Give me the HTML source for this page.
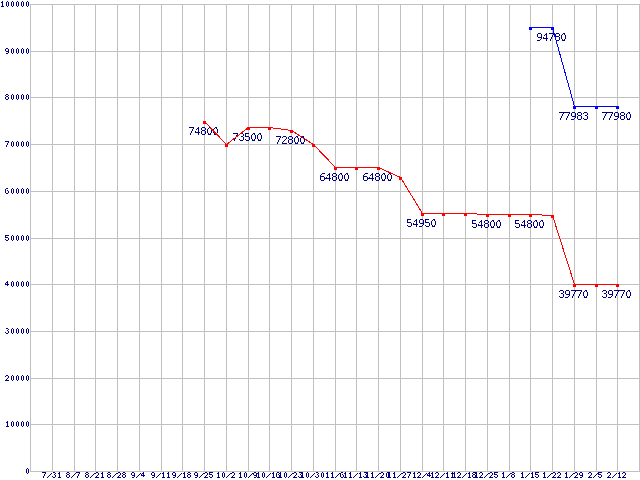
<!DOCTYPE html><html><head><meta charset="utf-8"><title>chart</title><style>html,body{margin:0;padding:0;background:#fff;width:640px;height:480px;overflow:hidden}svg{display:block}text{text-anchor:middle}.axl{fill:#000080}.axl .z{font-family:"Liberation Serif",serif;font-weight:bold;font-size:8.0px}.axl .o{font-family:"Liberation Mono",monospace;font-weight:bold;font-size:8.5px}.axl .t{font-family:"Liberation Sans",sans-serif;font-weight:normal;font-size:9.5px}.axl .h{font-family:"Liberation Sans",sans-serif;font-weight:normal;font-size:8.5px}.axl .f{font-family:"Liberation Sans",sans-serif;font-weight:bold;font-size:8.0px}.axl .v{font-family:"Liberation Sans",sans-serif;font-weight:bold;font-size:8.5px}.axl .x{font-family:"Liberation Sans",sans-serif;font-weight:normal;font-size:8.5px}.axl .s{font-family:"Liberation Sans",sans-serif;font-weight:normal;font-size:9.0px}.axl .e{font-family:"Liberation Sans",sans-serif;font-weight:normal;font-size:8.5px}.axl .n{font-family:"Liberation Sans",sans-serif;font-weight:normal;font-size:9.5px}.axl .sl{font-family:"Liberation Mono",monospace;font-weight:bold;font-size:9.0px}.val{fill:#000080}.val .z{font-family:"Liberation Sans",sans-serif;font-weight:bold;font-size:10.0px}.val .t{font-family:"Liberation Sans",sans-serif;font-weight:normal;font-size:11.5px}.val .h{font-family:"Liberation Sans",sans-serif;font-weight:normal;font-size:11.5px}.val .f{font-family:"Liberation Sans",sans-serif;font-weight:normal;font-size:11.0px}.val .v{font-family:"Liberation Sans",sans-serif;font-weight:normal;font-size:11.0px}.val .x{font-family:"DejaVu Sans",sans-serif;font-weight:normal;font-size:11.0px}.val .s{font-family:"Liberation Sans",sans-serif;font-weight:normal;font-size:12.5px}.val .e{font-family:"Liberation Sans",sans-serif;font-weight:normal;font-size:11.5px}.val .n{font-family:"DejaVu Sans",sans-serif;font-weight:normal;font-size:11.0px}</style></head><body>
<svg width="640" height="480" viewBox="0 0 640 480">
<rect width="640" height="480" fill="#fff"/>
<defs><filter id="bm" x="0" y="0" width="640" height="480" filterUnits="userSpaceOnUse" color-interpolation-filters="sRGB"><feComponentTransfer><feFuncA type="discrete" tableValues="0 0 1 1 1"/></feComponentTransfer></filter><filter id="bm2" x="0" y="0" width="640" height="480" filterUnits="userSpaceOnUse" color-interpolation-filters="sRGB"><feComponentTransfer><feFuncA type="discrete" tableValues="0 0 0 1 1"/></feComponentTransfer></filter></defs>
<g fill="#c0c0c0"><rect x="30" y="4" width="610" height="1"/><rect x="30" y="51" width="610" height="1"/><rect x="30" y="97" width="610" height="1"/><rect x="30" y="144" width="610" height="1"/><rect x="30" y="191" width="610" height="1"/><rect x="30" y="238" width="610" height="1"/><rect x="30" y="284" width="610" height="1"/><rect x="30" y="331" width="610" height="1"/><rect x="30" y="378" width="610" height="1"/><rect x="30" y="424" width="610" height="1"/><rect x="30" y="471" width="610" height="1"/><rect x="30" y="4" width="1" height="468"/><rect x="52" y="4" width="1" height="468"/><rect x="74" y="4" width="1" height="468"/><rect x="95" y="4" width="1" height="468"/><rect x="117" y="4" width="1" height="468"/><rect x="139" y="4" width="1" height="468"/><rect x="161" y="4" width="1" height="468"/><rect x="182" y="4" width="1" height="468"/><rect x="204" y="4" width="1" height="468"/><rect x="226" y="4" width="1" height="468"/><rect x="248" y="4" width="1" height="468"/><rect x="269" y="4" width="1" height="468"/><rect x="291" y="4" width="1" height="468"/><rect x="313" y="4" width="1" height="468"/><rect x="335" y="4" width="1" height="468"/><rect x="356" y="4" width="1" height="468"/><rect x="378" y="4" width="1" height="468"/><rect x="400" y="4" width="1" height="468"/><rect x="422" y="4" width="1" height="468"/><rect x="443" y="4" width="1" height="468"/><rect x="465" y="4" width="1" height="468"/><rect x="487" y="4" width="1" height="468"/><rect x="509" y="4" width="1" height="468"/><rect x="530" y="4" width="1" height="468"/><rect x="552" y="4" width="1" height="468"/><rect x="574" y="4" width="1" height="468"/><rect x="596" y="4" width="1" height="468"/><rect x="617" y="4" width="1" height="468"/><rect x="639" y="4" width="1" height="468"/></g>
<g filter="url(#bm)"><g class="axl" transform="scale(0.85,1)"><text x="2.91 8.79 14.68 20.56 26.44 32.32" y="7"><tspan class="o">1</tspan><tspan class="z">0</tspan><tspan class="z">0</tspan><tspan class="z">0</tspan><tspan class="z">0</tspan><tspan class="z">0</tspan></text><text x="8.35 14.68 20.56 26.44 32.32" y="54"><tspan class="n">9</tspan><tspan class="z">0</tspan><tspan class="z">0</tspan><tspan class="z">0</tspan><tspan class="z">0</tspan></text><text x="8.26 14.68 20.56 26.44 32.32" y="100"><tspan class="e">8</tspan><tspan class="z">0</tspan><tspan class="z">0</tspan><tspan class="z">0</tspan><tspan class="z">0</tspan></text><text x="8.44 14.68 20.56 26.44 32.32" y="147"><tspan class="s">7</tspan><tspan class="z">0</tspan><tspan class="z">0</tspan><tspan class="z">0</tspan><tspan class="z">0</tspan></text><text x="8.26 14.68 20.56 26.44 32.32" y="194"><tspan class="x">6</tspan><tspan class="z">0</tspan><tspan class="z">0</tspan><tspan class="z">0</tspan><tspan class="z">0</tspan></text><text x="8.26 14.68 20.56 26.44 32.32" y="241"><tspan class="v">5</tspan><tspan class="z">0</tspan><tspan class="z">0</tspan><tspan class="z">0</tspan><tspan class="z">0</tspan></text><text x="8.09 14.68 20.56 26.44 32.32" y="286.5 287 287 287 287"><tspan class="f">4</tspan><tspan class="z">0</tspan><tspan class="z">0</tspan><tspan class="z">0</tspan><tspan class="z">0</tspan></text><text x="8.26 14.68 20.56 26.44 32.32" y="334"><tspan class="h">3</tspan><tspan class="z">0</tspan><tspan class="z">0</tspan><tspan class="z">0</tspan><tspan class="z">0</tspan></text><text x="8.26 14.68 20.56 26.44 32.32" y="381"><tspan class="t">2</tspan><tspan class="z">0</tspan><tspan class="z">0</tspan><tspan class="z">0</tspan><tspan class="z">0</tspan></text><text x="8.79 14.68 20.56 26.44 32.32" y="427"><tspan class="o">1</tspan><tspan class="z">0</tspan><tspan class="z">0</tspan><tspan class="z">0</tspan><tspan class="z">0</tspan></text><text x="32.32" y="474"><tspan class="z">0</tspan></text><text x="51.97 57.41 63.56 69.97" y="478 477.5 478 478" rotate="0 20 0 0"><tspan class="s">7</tspan><tspan class="sl">/</tspan><tspan class="h">3</tspan><tspan class="o">1</tspan></text><text x="80.03 85.65 91.97" y="478 477.5 478" rotate="0 20 0"><tspan class="e">8</tspan><tspan class="sl">/</tspan><tspan class="s">7</tspan></text><text x="102.38 108 114.15 120.56" y="478 477.5 478 478" rotate="0 20 0 0"><tspan class="e">8</tspan><tspan class="sl">/</tspan><tspan class="t">2</tspan><tspan class="o">1</tspan></text><text x="128.26 133.88 140.03 145.91" y="478 477.5 478 478" rotate="0 20 0 0"><tspan class="e">8</tspan><tspan class="sl">/</tspan><tspan class="t">2</tspan><tspan class="e">8</tspan></text><text x="156.59 162.12 168.09" y="478 477.5 477.5" rotate="0 20 0"><tspan class="n">9</tspan><tspan class="sl">/</tspan><tspan class="f">4</tspan></text><text x="180.12 185.65 192.32 198.21" y="478 477.5 478 478" rotate="0 20 0 0"><tspan class="n">9</tspan><tspan class="sl">/</tspan><tspan class="o">1</tspan><tspan class="o">1</tspan></text><text x="204.82 210.35 217.03 222.38" y="478 477.5 478 478" rotate="0 20 0 0"><tspan class="n">9</tspan><tspan class="sl">/</tspan><tspan class="o">1</tspan><tspan class="e">8</tspan></text><text x="230.71 236.24 242.38 248.26" y="478 477.5 478 478" rotate="0 20 0 0"><tspan class="n">9</tspan><tspan class="sl">/</tspan><tspan class="t">2</tspan><tspan class="v">5</tspan></text><text x="257.03 262.91 268 274.15" y="478 478 477.5 478" rotate="0 0 20 0"><tspan class="o">1</tspan><tspan class="z">0</tspan><tspan class="sl">/</tspan><tspan class="t">2</tspan></text><text x="282.91 288.79 293.88 300.12" y="478 478 477.5 478" rotate="0 0 20 0"><tspan class="o">1</tspan><tspan class="z">0</tspan><tspan class="sl">/</tspan><tspan class="n">9</tspan></text><text x="304.09 309.97 315.06 321.74 327.09" y="478 478 477.5 478 478" rotate="0 0 20 0 0"><tspan class="o">1</tspan><tspan class="z">0</tspan><tspan class="sl">/</tspan><tspan class="o">1</tspan><tspan class="x">6</tspan></text><text x="329.97 335.85 340.94 347.09 352.97" y="478 478 477.5 478 478" rotate="0 0 20 0 0"><tspan class="o">1</tspan><tspan class="z">0</tspan><tspan class="sl">/</tspan><tspan class="t">2</tspan><tspan class="h">3</tspan></text><text x="355.85 361.74 366.82 372.97 379.38" y="478 478 477.5 478 478" rotate="0 0 20 0 0"><tspan class="o">1</tspan><tspan class="z">0</tspan><tspan class="sl">/</tspan><tspan class="h">3</tspan><tspan class="z">0</tspan></text><text x="385.26 391.15 396.24 402.38" y="478 478 477.5 478" rotate="0 0 20 0"><tspan class="o">1</tspan><tspan class="o">1</tspan><tspan class="sl">/</tspan><tspan class="x">6</tspan></text><text x="406.44 412.32 417.41 424.09 429.44" y="478 478 477.5 478 478" rotate="0 0 20 0 0"><tspan class="o">1</tspan><tspan class="o">1</tspan><tspan class="sl">/</tspan><tspan class="o">1</tspan><tspan class="h">3</tspan></text><text x="432.32 438.21 443.29 449.44 455.85" y="478 478 477.5 478 478" rotate="0 0 20 0 0"><tspan class="o">1</tspan><tspan class="o">1</tspan><tspan class="sl">/</tspan><tspan class="t">2</tspan><tspan class="z">0</tspan></text><text x="458.21 464.09 469.18 475.32 481.38" y="478 478 477.5 478 478" rotate="0 0 20 0 0"><tspan class="o">1</tspan><tspan class="o">1</tspan><tspan class="sl">/</tspan><tspan class="t">2</tspan><tspan class="s">7</tspan></text><text x="487.62 492.97 498.59 504.56" y="478 478 477.5 477.5" rotate="0 0 20 0"><tspan class="o">1</tspan><tspan class="t">2</tspan><tspan class="sl">/</tspan><tspan class="f">4</tspan></text><text x="508.79 514.15 519.76 526.44 532.32" y="478 478 477.5 478 478" rotate="0 0 20 0 0"><tspan class="o">1</tspan><tspan class="t">2</tspan><tspan class="sl">/</tspan><tspan class="o">1</tspan><tspan class="o">1</tspan></text><text x="534.68 540.03 545.65 552.32 557.68" y="478 478 477.5 478 478" rotate="0 0 20 0 0"><tspan class="o">1</tspan><tspan class="t">2</tspan><tspan class="sl">/</tspan><tspan class="o">1</tspan><tspan class="e">8</tspan></text><text x="560.56 565.91 571.53 577.68 583.56" y="478 478 477.5 478 478" rotate="0 0 20 0 0"><tspan class="o">1</tspan><tspan class="t">2</tspan><tspan class="sl">/</tspan><tspan class="t">2</tspan><tspan class="v">5</tspan></text><text x="592.32 597.41 603.56" y="478 477.5 478" rotate="0 20 0"><tspan class="o">1</tspan><tspan class="sl">/</tspan><tspan class="e">8</tspan></text><text x="614.68 619.76 626.44 631.79" y="478 477.5 478 478" rotate="0 20 0 0"><tspan class="o">1</tspan><tspan class="sl">/</tspan><tspan class="o">1</tspan><tspan class="v">5</tspan></text><text x="640.56 645.65 651.79 657.68" y="478 477.5 478 478" rotate="0 20 0 0"><tspan class="o">1</tspan><tspan class="sl">/</tspan><tspan class="t">2</tspan><tspan class="t">2</tspan></text><text x="666.44 671.53 677.68 683.65" y="478 477.5 478 478" rotate="0 20 0 0"><tspan class="o">1</tspan><tspan class="sl">/</tspan><tspan class="t">2</tspan><tspan class="n">9</tspan></text><text x="694.15 699.76 705.91" y="478 477.5 478" rotate="0 20 0"><tspan class="t">2</tspan><tspan class="sl">/</tspan><tspan class="v">5</tspan></text><text x="716.5 722.12 728.79 734.15" y="478 477.5 478 478" rotate="0 20 0 0"><tspan class="t">2</tspan><tspan class="sl">/</tspan><tspan class="o">1</tspan><tspan class="t">2</tspan></text></g></g>
<clipPath id="cr" clipPathUnits="userSpaceOnUse"><rect x="187" y="127" width="34" height="8"/><rect x="231" y="133" width="34" height="8"/><rect x="274" y="136" width="34" height="8"/><rect x="318" y="173" width="34" height="8"/><rect x="361" y="173" width="34" height="8"/><rect x="405" y="219" width="34" height="8"/><rect x="470" y="220" width="34" height="8"/><rect x="513" y="220" width="34" height="8"/><rect x="557" y="290" width="34" height="8"/><rect x="600" y="290" width="34" height="8"/></clipPath><g filter="url(#bm2)" clip-path="url(#cr)"><g class="val" transform="scale(1.0,1)"><text x="191.28 197.28 203.57 209.57 215.57" y="135.5 135 135 135 135"><tspan class="s">7</tspan><tspan class="f">4</tspan><tspan class="e">8</tspan><tspan class="z">0</tspan><tspan class="z">0</tspan></text><text x="235.28 241.57 247.43 253.57 259.57" y="141.5 141 141 141 141"><tspan class="s">7</tspan><tspan class="h">3</tspan><tspan class="v">5</tspan><tspan class="z">0</tspan><tspan class="z">0</tspan></text><text x="278.27 284.43 290.57 296.57 302.57" y="144.5 144 144 144 144"><tspan class="s">7</tspan><tspan class="t">2</tspan><tspan class="e">8</tspan><tspan class="z">0</tspan><tspan class="z">0</tspan></text><text x="322.5 328.27 334.57 340.57 346.57" y="181"><tspan class="x">6</tspan><tspan class="f">4</tspan><tspan class="e">8</tspan><tspan class="z">0</tspan><tspan class="z">0</tspan></text><text x="365.5 371.27 377.57 383.57 389.57" y="181"><tspan class="x">6</tspan><tspan class="f">4</tspan><tspan class="e">8</tspan><tspan class="z">0</tspan><tspan class="z">0</tspan></text><text x="409.43 415.27 421.5 427.43 433.57" y="227"><tspan class="v">5</tspan><tspan class="f">4</tspan><tspan class="n">9</tspan><tspan class="v">5</tspan><tspan class="z">0</tspan></text><text x="474.43 480.27 486.57 492.57 498.57" y="228"><tspan class="v">5</tspan><tspan class="f">4</tspan><tspan class="e">8</tspan><tspan class="z">0</tspan><tspan class="z">0</tspan></text><text x="517.42 523.27 529.58 535.58 541.58" y="228"><tspan class="v">5</tspan><tspan class="f">4</tspan><tspan class="e">8</tspan><tspan class="z">0</tspan><tspan class="z">0</tspan></text><text x="561.58 567.5 573.27 579.27 585.58" y="298 298 298.5 298.5 298"><tspan class="h">3</tspan><tspan class="n">9</tspan><tspan class="s">7</tspan><tspan class="s">7</tspan><tspan class="z">0</tspan></text><text x="604.58 610.5 616.27 622.27 628.58" y="298 298 298.5 298.5 298"><tspan class="h">3</tspan><tspan class="n">9</tspan><tspan class="s">7</tspan><tspan class="s">7</tspan><tspan class="z">0</tspan></text></g></g><polyline points="204.5,121.5 226.5,144.5 248.5,127.5 269.5,127.5 291.5,130.5 313.5,144.5 335.5,167.5 356.5,167.5 378.5,167.5 400.5,177.5 422.5,213.5 443.5,213.5 465.5,213.5 487.5,214.5 509.5,214.5 530.5,214.5 552.5,215.5 574.5,284.5 596.5,284.5 617.5,284.5" fill="none" stroke="#ff0000" stroke-width="1" shape-rendering="crispEdges"/><g fill="#ff0000"><rect x="203" y="121" width="3" height="3"/><rect x="225" y="144" width="3" height="3"/><rect x="247" y="127" width="3" height="3"/><rect x="268" y="127" width="3" height="3"/><rect x="290" y="130" width="3" height="3"/><rect x="312" y="144" width="3" height="3"/><rect x="334" y="167" width="3" height="3"/><rect x="355" y="167" width="3" height="3"/><rect x="377" y="167" width="3" height="3"/><rect x="399" y="177" width="3" height="3"/><rect x="421" y="213" width="3" height="3"/><rect x="442" y="213" width="3" height="3"/><rect x="464" y="213" width="3" height="3"/><rect x="486" y="214" width="3" height="3"/><rect x="508" y="214" width="3" height="3"/><rect x="529" y="214" width="3" height="3"/><rect x="551" y="215" width="3" height="3"/><rect x="573" y="284" width="3" height="3"/><rect x="595" y="284" width="3" height="3"/><rect x="616" y="284" width="3" height="3"/></g>
<clipPath id="cb" clipPathUnits="userSpaceOnUse"><rect x="535" y="33" width="34" height="8"/><rect x="557" y="112" width="34" height="8"/><rect x="600" y="112" width="34" height="8"/></clipPath><g filter="url(#bm2)" clip-path="url(#cb)"><g class="val" transform="scale(1.0,1)"><text x="539.5 545.27 551.27 557.58 563.58" y="41 41 41.5 41 41"><tspan class="n">9</tspan><tspan class="f">4</tspan><tspan class="s">7</tspan><tspan class="e">8</tspan><tspan class="z">0</tspan></text><text x="561.27 567.27 573.5 579.58 585.58" y="120.5 120.5 120 120 120"><tspan class="s">7</tspan><tspan class="s">7</tspan><tspan class="n">9</tspan><tspan class="e">8</tspan><tspan class="h">3</tspan></text><text x="604.27 610.27 616.5 622.58 628.58" y="120.5 120.5 120 120 120"><tspan class="s">7</tspan><tspan class="s">7</tspan><tspan class="n">9</tspan><tspan class="e">8</tspan><tspan class="z">0</tspan></text></g></g><polyline points="530.5,27.5 552.5,27.5 574.5,106.5 596.5,106.5 617.5,106.5" fill="none" stroke="#0000ff" stroke-width="1" shape-rendering="crispEdges"/><g fill="#0000ff"><rect x="529" y="27" width="3" height="3"/><rect x="551" y="27" width="3" height="3"/><rect x="573" y="106" width="3" height="3"/><rect x="595" y="106" width="3" height="3"/><rect x="616" y="106" width="3" height="3"/></g>
</svg></body></html>
